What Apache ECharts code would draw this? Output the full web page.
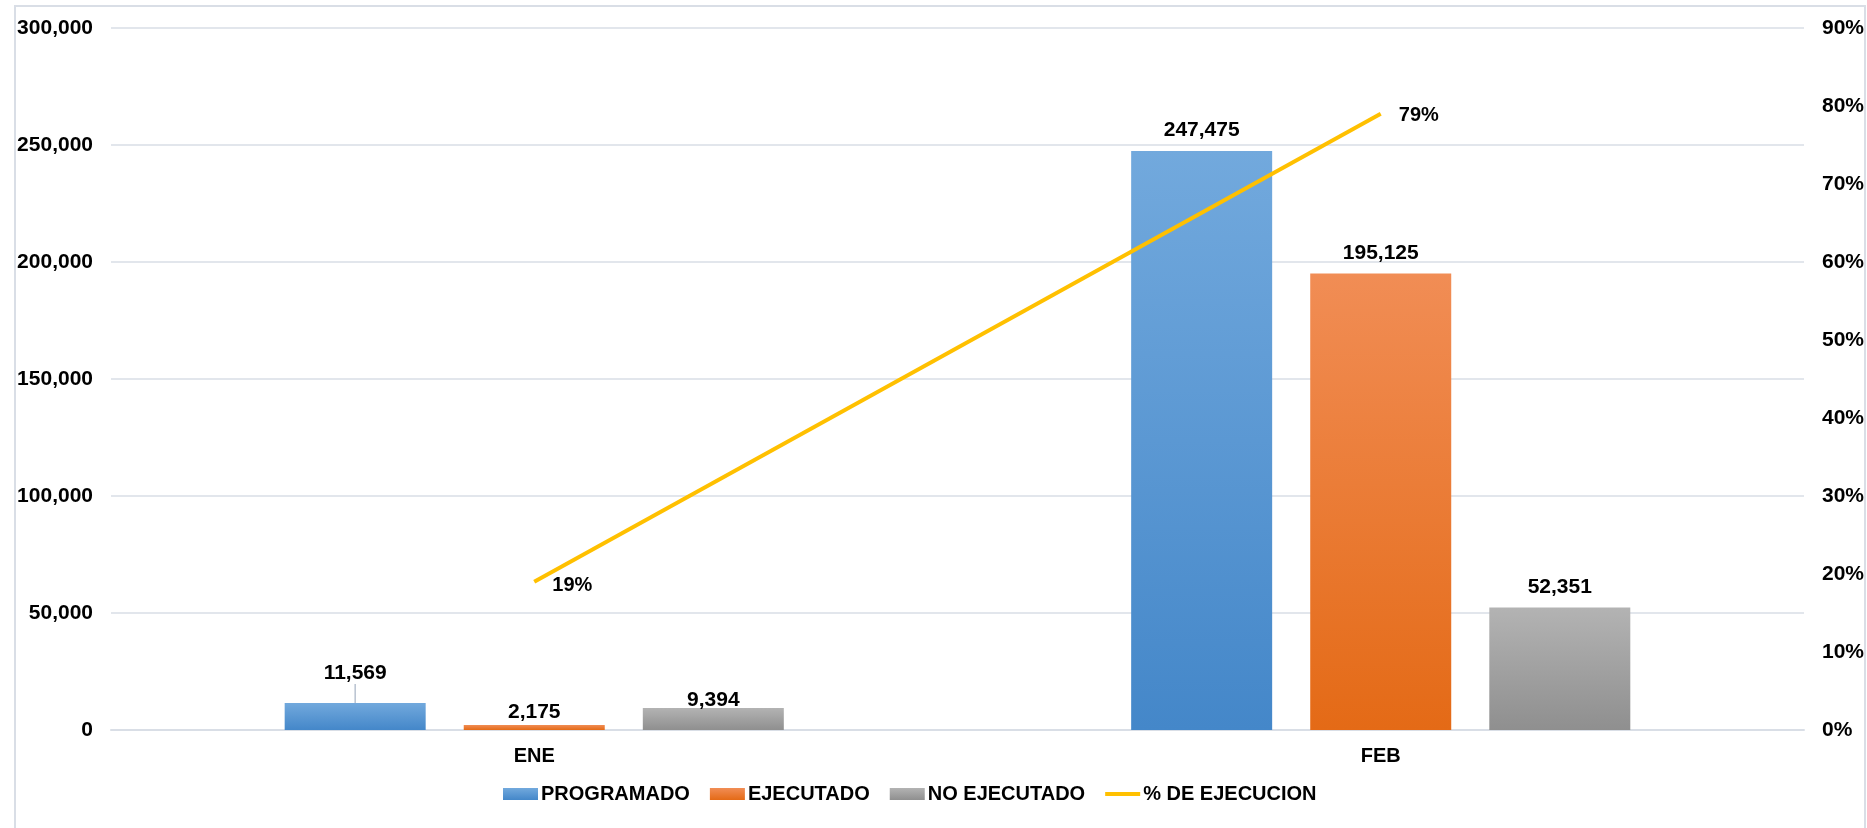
<!DOCTYPE html>
<html>
<head>
<meta charset="utf-8">
<script src="https://cdn.jsdelivr.net/npm/echarts@6/dist/echarts.min.js"></script>
<style>
html,body{margin:0;padding:0;background:#fff;}
#chart{width:1867px;height:828px;}
</style>
</head>
<body>
<div id="chart"></div>
<script>
var categories = ['ENE', 'FEB'];
var programado = [11569, 247475];
var ejecutado = [2175, 195125];
var noEjecutado = [9394, 52351];
var pctEjecucion = [0.19, 0.79];
var leftTicks = [0, 300000, 50000];
var rightTicks = [0, 0.9, 0.1];

var FONT = '"Liberation Sans", Arial, sans-serif';

function grad(top, bottom) {
  return new echarts.graphic.LinearGradient(0, 0, 0, 1, [
    {offset: 0, color: top}, {offset: 1, color: bottom}
  ]);
}
function fmtNum(v) {
  return v.toString().replace(/\B(?=(\d{3})+(?!\d))/g, ',');
}
var barLabel = {
  show: true, position: 'top', distance: 10,
  color: '#000', fontFamily: FONT, fontWeight: 'bold', fontSize: 21,
  formatter: function (p) { return fmtNum(p.value); }
};
function withLeader(arr, idx) {
  return arr.map(function (v, i) {
    return i === idx ? {value: v, labelLine: {show: true}} : {value: v};
  });
}

var chart = echarts.init(document.getElementById('chart'));
chart.setOption({
  animation: false,
  backgroundColor: '#fff',
  textStyle: {fontFamily: FONT},
  graphic: [{
    type: 'rect', silent: true, z: -1,
    shape: {x: 15, y: 6, width: 1850, height: 900},
    style: {fill: 'none', stroke: '#D9DEE6', lineWidth: 2}
  }],
  grid: {left: 111, right: 63, top: 28, bottom: 98, containLabel: false},
  legend: {
    left: 498, top: 779,
    itemWidth: 35, itemHeight: 12, itemGap: 20,
    textStyle: {color: '#000', fontFamily: FONT, fontWeight: 'bold', fontSize: 20, padding: [0, 0, 0, -2]},
    data: [
      {name: 'PROGRAMADO', icon: 'rect'},
      {name: 'EJECUTADO', icon: 'rect'},
      {name: 'NO EJECUTADO', icon: 'rect'},
      {name: '% DE EJECUCION', icon: 'path://M0,0 L35,0 L35,4 L0,4 Z'}
    ]
  },
  xAxis: {
    type: 'category', data: categories,
    axisLine: {show: true, lineStyle: {color: '#D9DEE6', width: 2}},
    axisTick: {show: false},
    axisLabel: {color: '#000', fontFamily: FONT, fontWeight: 'bold', fontSize: 20, margin: 16}
  },
  yAxis: [{
    type: 'value', min: leftTicks[0], max: leftTicks[1], interval: leftTicks[2],
    axisLine: {show: false}, axisTick: {show: false},
    splitLine: {show: true, lineStyle: {color: '#E2E6EC', width: 2}},
    axisLabel: {color: '#000', fontFamily: FONT, fontWeight: 'bold', fontSize: 21, margin: 18,
      formatter: function (v) { return fmtNum(v); }}
  }, {
    type: 'value', min: rightTicks[0], max: rightTicks[1], interval: rightTicks[2],
    axisLine: {show: false}, axisTick: {show: false},
    splitLine: {show: false},
    axisLabel: {color: '#000', fontFamily: FONT, fontWeight: 'bold', fontSize: 21, margin: 18,
      formatter: function (v) { return Math.round(v * 100) + '%'; }}
  }],
  series: [{
    name: 'PROGRAMADO', type: 'bar', data: withLeader(programado, 0),
    barWidth: 141, barGap: '27%',
    itemStyle: {color: grad('#72A9DD', '#4487C9')},
    label: barLabel,
    labelLine: {show: false, lineStyle: {color: '#B8C2D0', width: 1.5}},
    labelLayout: function (p) { return p.dataIndex === 0 ? {dy: -9} : {}; }
  }, {
    name: 'EJECUTADO', type: 'bar', data: ejecutado,
    barWidth: 141,
    itemStyle: {color: grad('#F18D55', '#E46A16')},
    label: barLabel,
    labelLayout: function (p) { return p.dataIndex === 0 ? {dy: 8} : {}; }
  }, {
    name: 'NO EJECUTADO', type: 'bar', data: noEjecutado,
    barWidth: 141,
    itemStyle: {color: grad('#B3B3B3', '#8F8F8F')},
    label: barLabel,
    labelLayout: function (p) { return p.dataIndex === 0 ? {dy: 13} : {}; }
  }, {
    name: '% DE EJECUCION', type: 'line', yAxisIndex: 1, data: pctEjecucion,
    symbol: 'circle', symbolSize: 0.1, showSymbol: true,
    lineStyle: {color: '#FFC000', width: 4},
    itemStyle: {color: '#FFC000'},
    z: 5,
    label: {
      show: true, position: 'right', distance: 18,
      color: '#000', fontFamily: FONT, fontWeight: 'bold', fontSize: 20,
      formatter: function (p) { return Math.round(p.value * 100) + '%'; }
    },
    labelLayout: function (p) { return p.dataIndex === 0 ? {dy: 4} : {dy: 2}; }
  }]
});
</script>
</body>
</html>
